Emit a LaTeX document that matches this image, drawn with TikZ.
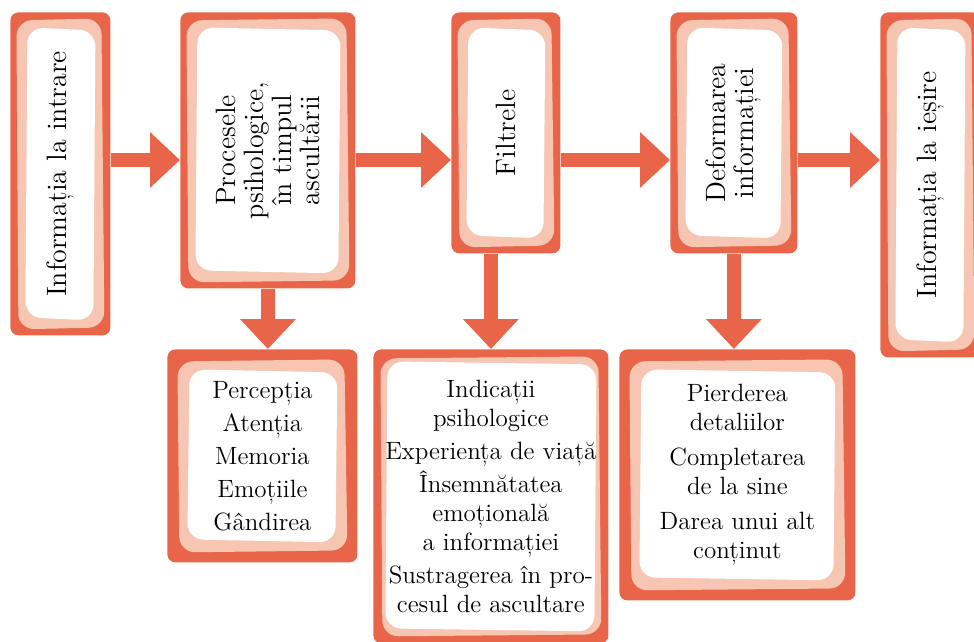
\documentclass[tikz,border=0pt]{standalone}
\usepackage{fontspec}
\usepackage{xcolor}
\usetikzlibrary{positioning}
\usetikzlibrary{calc}
\usetikzlibrary{arrows.meta}

\definecolor{cardorange}{RGB}{233,101,74}
\definecolor{cardpink}{RGB}{247,198,178}

% pink band and white field inside a card
\newcommand{\cardfill}[2]{%
	\fill[cardpink, rounded corners=8pt]
		([shift={(#1,-#1-1pt)}]path picture bounding box.north west) --
		([shift={(-#1-1.5pt,-#1)}]path picture bounding box.north east) --
		([shift={(-#1,#1+1pt)}]path picture bounding box.south east) --
		([shift={(#1+1pt,#1)}]path picture bounding box.south west) -- cycle;
	\fill[white, rounded corners=8pt]
		([shift={(#2+1pt,-#2)}]path picture bounding box.north west) --
		([shift={(-#2,-#2-1.5pt)}]path picture bounding box.north east) --
		([shift={(-#2-1pt,#2)}]path picture bounding box.south east) --
		([shift={(#2,#2+1.5pt)}]path picture bounding box.south west) -- cycle;
}

\begin{document}
\begin{tikzpicture}[x=0.5pt, y=-0.5pt, font=\fontsize{14}{14}\selectfont]
	\tikzstyle{card}=[rectangle, rounded corners=4pt, fill=cardorange, inner sep=0pt, anchor=north west, path picture={\cardfill{3pt}{7.5pt}}]
	\tikzstyle{listcard}=[rectangle, rounded corners=4pt, fill=cardorange, inner sep=0pt, anchor=north west, align=center, font=\fontsize{12.5}{14.5}\selectfont, path picture={\cardfill{5pt}{10pt}}]
	\tikzstyle{vlabel}=[rotate=90, align=center]
	\tikzstyle{flow}=[draw=cardorange, line width=7pt, -{Triangle[length=15pt, width=27pt]}]

	\clip (0,0) rectangle (974,642);
	\coordinate (row) at (0,160);

	%% Top row
	\node[card, minimum width=50pt, minimum height=161.5pt, label={[vlabel]center:Informația la intrare}] (in) at (10,12) {};
	\node[card, minimum width=87.5pt, minimum height=138pt, label={[vlabel]center:{Procesele\\psihologice,\\în timpul\\ascultării}}] (proc) at (180,12) {};
	\node[card, minimum width=54.5pt, minimum height=120.5pt, label={[vlabel]center:Filtrele}] (filt) at (451,12) {};
	\node[card, minimum width=63.5pt, minimum height=120.5pt, label={[vlabel]center:{Deformarea\\informației}}] (def) at (670,12) {};
	\node[card, minimum width=50pt, minimum height=172.5pt, label={[vlabel]center:Informația la ieșire}] (out) at (880,12) {};

	%% Bottom row
	\node[listcard, minimum width=95pt, minimum height=106.5pt] (proclist) at (167,349)
		{Percepția\\[2pt] Atenția\\[2pt] Memoria\\[2pt] Emoțiile\\[2pt] Gândirea};
	\node[listcard, path picture={\cardfill{3.5pt}{6pt}}, minimum width=117.5pt, minimum height=147pt] (filtlist) at (373,349)
		{Indicații\\ psihologice\\[2pt] Experiența de viață\\[2pt] Însemnătatea\\ emoțională\\ a informației\\[2pt] Sustragerea în pro-\\ cesul de ascultare};
	\node[listcard, minimum width=118pt, minimum height=125.5pt] (deflist) at (619,349)
		{Pierderea\\ detaliilor\\[3pt] Completarea\\ de la sine\\[3pt] Darea unui alt\\ conținut};

	%% Arrows
	\draw[flow] (in.east |- row) -- (proc.west |- row);
	\draw[flow] (proc.east |- row) -- (filt.west |- row);
	\draw[flow] (filt.east |- row) -- (def.west |- row);
	\draw[flow] (def.east |- row) -- (out.west |- row);

	\draw[flow] (proc.south) -- (proc.south |- proclist.north);
	\draw[flow] (filtlist.north |- filt.south) -- (filtlist.north);
	\draw[flow] (def.south) -- (def.south |- deflist.north);
\end{tikzpicture}
\end{document}
